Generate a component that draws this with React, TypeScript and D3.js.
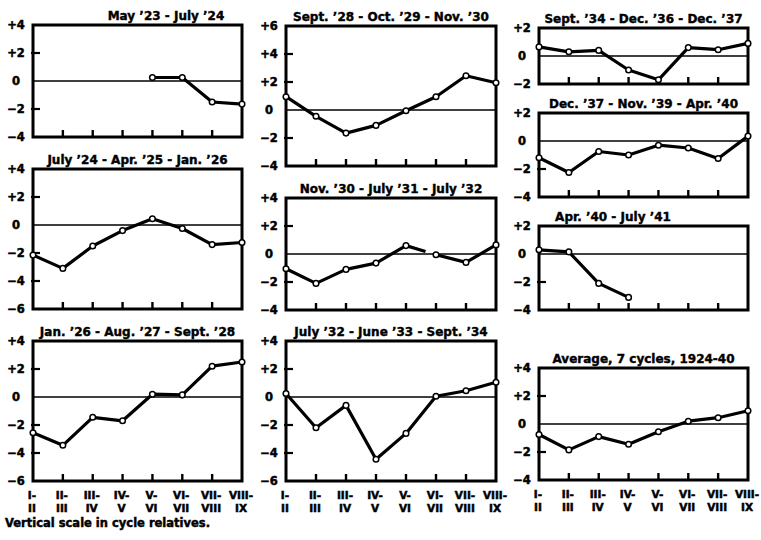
import React from 'react'
import * as d3 from 'd3'

// cycle stages on the horizontal axis
const periods = ['I-II', 'II-III', 'III-IV', 'IV-V', 'V-VI', 'VI-VII', 'VII-VIII', 'VIII-IX']
const periodTop = ['I-', 'II-', 'III-', 'IV-', 'V-', 'VI-', 'VII-', 'VIII-']
const periodBottom = ['II', 'III', 'IV', 'V', 'VI', 'VII', 'VIII', 'IX']

// cycle relatives, one array per cycle (null = no reading)
const may23 = [null, null, null, null, 0.25, 0.25, -1.5, -1.65]
const jul24 = [-2.15, -3.1, -1.5, -0.4, 0.45, -0.25, -1.4, -1.25]
const jan26 = [-2.55, -3.45, -1.45, -1.7, 0.2, 0.15, 2.2, 2.5]
const sep28 = [0.95, -0.45, -1.65, -1.1, -0.05, 0.95, 2.45, 1.95]
const nov30 = [-1.05, -2.1, -1.1, -0.65, 0.6, -0.05, -0.6, 0.65]
const jul32 = [0.25, -2.2, -0.6, -4.45, -2.6, 0.05, 0.45, 1.05]
const sep34 = [0.65, 0.3, 0.4, -1.0, -1.7, 0.6, 0.45, 0.9]
const dec37 = [-1.2, -2.25, -0.75, -1.0, -0.3, -0.5, -1.25, 0.35]
const apr40 = [0.3, 0.15, -2.1, -3.1, null, null, null, null]
const average = [-0.75, -1.85, -0.9, -1.45, -0.55, 0.2, 0.45, 0.95]

const titles = [
  'May \u201923 - July \u201924',
  'July \u201924 - Apr. \u201925 - Jan. \u201926',
  'Jan. \u201926 - Aug. \u201927 - Sept. \u201928',
  'Sept. \u201928 - Oct. \u201929 - Nov. \u201930',
  'Nov. \u201930 - July \u201931 - July \u201932',
  'July \u201932 - June \u201933 - Sept. \u201934',
  'Sept. \u201934 - Dec. \u201936 - Dec. \u201937',
  'Dec. \u201937 - Nov. \u201939 - Apr. \u201940',
  'Apr. \u201940 - July \u201941',
  'Average, 7 cycles, 1924-40',
]
const series = [may23, jul24, jan26, sep28, nov30, jul32, sep34, dec37, apr40, average]
const yDomains = [[-4, 4], [-6, 4], [-6, 4], [-4, 6], [-4, 4], [-6, 4], [-2, 2], [-4, 2], [-4, 2], [-4, 4]]

const cols = [[33, 242], [286, 496], [539, 748]]
const PX = 14 // pixels per unit
const layout = [
  { col: 0, top: 25, titleX: 166 },
  { col: 0, top: 169 },
  { col: 0, top: 341, xLabels: true },
  { col: 1, top: 26 },
  { col: 1, top: 198, gap: { after: 4, frac: 0.65 } },
  { col: 1, top: 341, xLabels: true },
  { col: 2, top: 28 },
  { col: 2, top: 113 },
  { col: 2, top: 226, titleX: 613 },
  { col: 2, top: 368, xLabels: true },
]

const font = '"DejaVu Sans", Verdana, sans-serif'
const fmt = v => (v > 0 ? `+${v}` : v < 0 ? `\u2212${-v}` : '0')

const Panel = ({ title, values, domain, lay }) => {
  const [x0, x1] = cols[lay.col]
  const top = lay.top
  const bottom = top + PX * (domain[1] - domain[0])
  const x = d3.scalePoint().domain(periods).range([x0, x1])
  const y = d3.scaleLinear().domain(domain).range([bottom, top])
  const ticks = d3.range(domain[0], domain[1] + 1, 2)

  const pts = values.map((v, i) => (v == null ? null : [x(periods[i]), y(v)]))
  const line = d3.line().defined(d => d != null)

  let paths = [pts]
  if (lay.gap) {
    const g = lay.gap.after
    const a = pts[g], b = pts[g + 1]
    const mid = d3.interpolateArray(a, b)(lay.gap.frac)
    paths = [[...pts.slice(0, g + 1), mid], pts.slice(g + 1)]
  }

  return (
    <g>
      <text x={lay.titleX ?? (x0 + x1) / 2} y={top - 5} textAnchor='middle'
        fontSize={12} fontWeight='bold' stroke='#000' strokeWidth={0.4}>{title}</text>
      {ticks.map(t => (
        <g key={t}>
          <text x={x0 - 17} y={y(t)} dy='0.36em' textAnchor='middle' fontSize={11.5}
            fontWeight='bold' stroke='#000' strokeWidth={0.5}>{fmt(t)}</text>
          {t !== 0 && t !== domain[0] && t !== domain[1] &&
            <line x1={x0 - 2} x2={x0 + 7} y1={y(t)} y2={y(t)} stroke='#000' strokeWidth={2.2} />}
        </g>
      ))}
      <line x1={x0} x2={x1} y1={y(0)} y2={y(0)} stroke='#000' strokeWidth={1.7} />
      {periods.slice(1, -1).map(p => (
        <line key={p} x1={x(p)} x2={x(p)} y1={bottom} y2={bottom - 7} stroke='#000' strokeWidth={2.4} />
      ))}
      <rect x={x0} y={top} width={x1 - x0} height={bottom - top} fill='none' stroke='#000' strokeWidth={3} />
      {paths.map((p, i) => (
        <path key={i} d={line(p)} fill='none' stroke='#000' strokeWidth={3.2} strokeLinejoin='round' />
      ))}
      {pts.filter(d => d != null).map((d, i) => (
        <circle key={i} cx={d[0]} cy={d[1]} r={2.8} fill='#fff' stroke='#000' strokeWidth={1.5} />
      ))}
      {lay.xLabels && periods.map((p, i) => (
        <g key={p} fontSize={10.5} fontWeight='bold' textAnchor='middle' stroke='#000' strokeWidth={0.5}>
          <text x={x(p) - 1} y={bottom + 18}>{periodTop[i]}</text>
          <text x={x(p) - 1} y={bottom + 31}>{periodBottom[i]}</text>
        </g>
      ))}
    </g>
  )
}

const App = () => (
  <svg width={761} height={540} style={{ position: 'absolute', left: 0, top: 0, background: '#fff' }}
    fontFamily={font}>
    {series.map((s, i) => (
      <Panel key={i} title={titles[i]} values={s} domain={yDomains[i]} lay={layout[i]} />
    ))}
    <text x={5} y={527} fontSize={11.5} fontWeight='bold' stroke='#000' strokeWidth={0.45}>
      Vertical scale in cycle relatives.
    </text>
  </svg>
)

export default App
